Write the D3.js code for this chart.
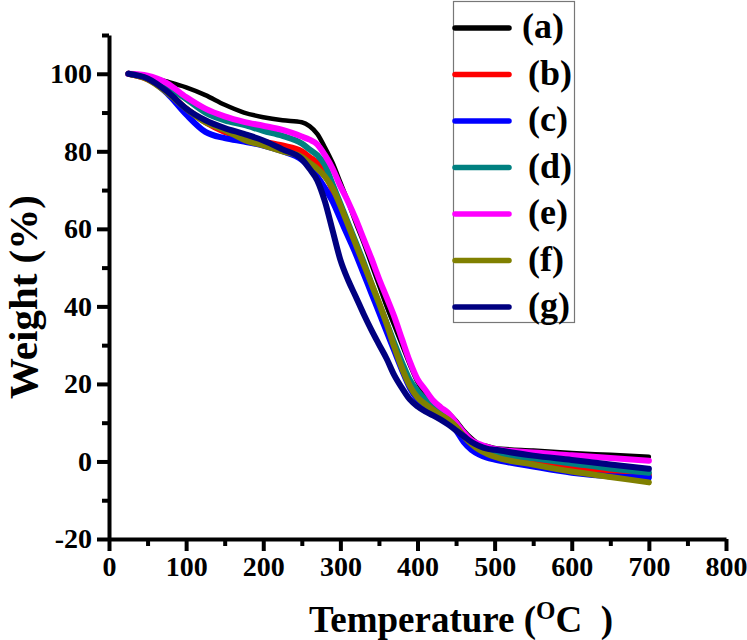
<!DOCTYPE html>
<html><head><meta charset="utf-8">
<script src="https://cdn.jsdelivr.net/npm/d3@7/dist/d3.min.js"></script>
<style>
html,body{margin:0;padding:0;background:#fff;}
svg{display:block;}
text{font-family:"Liberation Serif","Times New Roman",serif;font-weight:bold;fill:#000;}
</style></head>
<body><svg id="c" width="747" height="640"></svg>
<script>
const temps = [25,50,75,100,125,150,175,200,225,250,260,270,280,290,300,310,320,330,340,350,360,370,380,390,400,410,420,430,440,450,460,470,480,490,500,550,600,650,700];
const seriesNames = ["(a)","(b)","(c)","(d)","(e)","(f)","(g)"];
const seriesColors = ["#000000","#ff0000","#0000ff","#008080","#ff00ff","#808000","#000080"];
const weightA = [100,99.3,98,96.5,94.5,92,90,88.8,88,87.5,86.5,84.5,81,77,72,67,61.5,56.5,51,45.5,40,35,30,25,20.5,17.5,15.5,14,12.5,10.5,8,6,4.5,4,3.5,2.8,2.2,1.7,1.2];
const weightB = [100,98.6,95.5,91,87.5,85,83.5,82.5,81.5,80,78.5,77,74,70,65,60,55,50,45.5,40.5,35.5,30,25,20.5,17,15,13.5,12,11,9,6.5,4.5,3,2,1.4,-0.2,-1.5,-2.6,-3.5];
const weightC = [100,98.8,95,89.5,85,83.4,82.5,81.5,80,77.8,76,73.5,70.5,67,62.5,58,53.5,48.5,43.5,38.5,33.5,28.5,23.5,19,16,14.2,13,11.8,10.3,8,5,3,1.8,1,0.5,-1.3,-2.9,-3.8,-4.1];
const weightD = [100,99,96.7,93.5,90,88,86.8,85.3,84,82,80.5,79,76.5,71.5,66.5,61.5,56.5,51.5,46,40.8,35.7,30.5,25.5,21,18.2,16,14.2,12.8,11.5,9.5,7,5,3.8,2.8,2.2,0.8,-0.5,-1.8,-2.9];
const weightE = [100,99.5,97.6,94,91,89,87.6,86.6,85.5,83.8,83,81.8,79,75.5,71,67,62.5,57.5,52.5,47.2,42.3,37.3,31.5,25.8,21.2,18.5,15.8,14,12.5,10,7.5,5.5,4.5,3.8,3.2,2.3,1.6,0.9,0.2];
const weightF = [100,98.6,95.2,91,87.5,85.5,83,81.5,80,78.5,77,75.5,73.5,70.5,66,61,56,51,46,41,35.5,29.5,24,19.5,16.5,14.8,13.3,12,10.8,9,6.5,4.5,3,2,1.2,-0.8,-2.6,-4,-5.4];
const weightG = [100,98.8,95.5,91,88,86,84.5,82.8,80.5,78,75.5,72.5,67,59.5,52,46.8,42.5,38.1,34,30.2,26.5,22.2,18.9,16,14.2,12.9,11.9,10.8,9.5,8,6.5,5,4,3.3,3,1.5,0.4,-0.8,-1.9];
const xMajorTicks = [0,100,200,300,400,500,600,700,800];
const xMinorTicks = [50,150,250,350,450,550,650,750];
const yMajorTicks = [-20,0,20,40,60,80,100];
const yMinorTicks = [-10,10,30,50,70,90,110];

const allWeights = [weightA,weightB,weightC,weightD,weightE,weightF,weightG];
const series = seriesNames.map((n,i)=>({name:n,color:seriesColors[i],values:temps.map((t,j)=>({t:t,w:allWeights[i][j]}))}));

const svg = d3.select("#c");
const x = d3.scaleLinear().domain([0,800]).range([109,726]);
const y = d3.scaleLinear().domain([-20,110]).range([539,35]);

// curves
const line = d3.line().x(d=>x(d.t)).y(d=>y(d.w)).curve(d3.curveMonotoneX);
svg.append("g").selectAll("path").data(series).join("path")
  .attr("d",d=>line(d.values))
  .attr("fill","none")
  .attr("stroke",d=>d.color)
  .attr("stroke-width",(d,i)=>i===0?4.5:6)
  .attr("stroke-linecap","round")
  .attr("stroke-linejoin","round");

// axes
const FONT = "'Liberation Serif','Times New Roman',serif";
function styleAxis(g){
  g.attr("font-family",FONT).attr("font-size",28).attr("font-weight","bold");
  g.select(".domain").attr("stroke","#000").attr("stroke-width",4);
  g.selectAll(".tick line").attr("stroke","#000").attr("stroke-width",4);
  g.selectAll(".tick text").attr("font-family",FONT).attr("font-size",28).attr("font-weight","bold");
}
const fmt = d => String(d);
const xAxis = svg.append("g").attr("transform","translate(0,539)")
  .call(d3.axisBottom(x).tickValues(xMajorTicks).tickSize(12).tickSizeOuter(0).tickPadding(5).tickFormat(fmt));
styleAxis(xAxis);
const xMinor = svg.append("g").attr("transform","translate(0,539)")
  .call(d3.axisBottom(x).tickValues(xMinorTicks).tickSize(7).tickSizeOuter(0).tickFormat(""));
styleAxis(xMinor); xMinor.select(".domain").remove();

const yAxis = svg.append("g").attr("transform","translate(109,0)")
  .call(d3.axisLeft(y).tickValues(yMajorTicks).tickSize(12).tickSizeOuter(0).tickPadding(5).tickFormat(fmt));
styleAxis(yAxis);
const yMinor = svg.append("g").attr("transform","translate(109,0)")
  .call(d3.axisLeft(y).tickValues(yMinorTicks).tickSize(7).tickSizeOuter(0).tickFormat(""));
styleAxis(yMinor); yMinor.select(".domain").remove();

// axis titles
svg.append("text").attr("transform","translate(37,297) rotate(-90)")
  .attr("text-anchor","middle").style("font-size","41px").text("Weight (%)");
const xt = svg.append("text").attr("x",461).attr("y",632).attr("text-anchor","middle")
  .style("font-size","37px").attr("xml:space","preserve").style("white-space","pre");
xt.append("tspan").text("Temperature (");
xt.append("tspan").attr("dy",-13).style("font-size","25px").text("O");
xt.append("tspan").attr("dy",13).text("C  )");

// legend
const lg = svg.append("g");
lg.append("rect").attr("x",453.5).attr("y",1.5).attr("width",121).attr("height",321)
  .attr("fill","#fff").attr("stroke","#777").attr("stroke-width",1.2);
const items = lg.selectAll("g.item").data(series).join("g").attr("class","item")
  .attr("transform",(d,i)=>`translate(0,${28+i*46.5})`);
items.append("line").attr("x1",455).attr("x2",509).attr("y1",0).attr("y2",0)
  .attr("stroke",d=>d.color).attr("stroke-width",5.5).attr("stroke-linecap","round");
items.append("text").attr("x",(d,i)=>i===0?522:528).attr("y",10)
  .style("font-size","36px").text(d=>d.name);
</script></body></html>
